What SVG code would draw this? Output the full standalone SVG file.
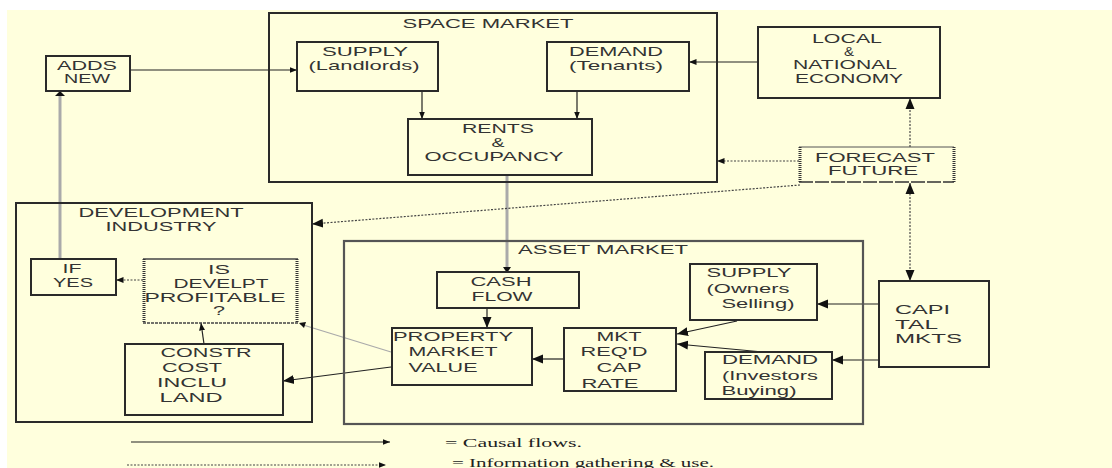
<svg xmlns="http://www.w3.org/2000/svg" width="1112" height="468" viewBox="0 0 1112 468">
<defs>
<style>
.bx{fill:none;stroke:#2a2a2a;stroke-width:2}
.t{font-family:"Liberation Sans",Arial,sans-serif;font-size:13px;fill:#333;text-anchor:middle}
.tl{font-family:"Liberation Sans",Arial,sans-serif;font-size:13px;fill:#333;text-anchor:start}
.lg{font-family:"Liberation Serif","Times New Roman",serif;font-size:13px;fill:#222}
.c{fill:none;stroke:#222;stroke-width:1.2}
.d{fill:none;stroke:#444;stroke-width:1.2;stroke-dasharray:2,1.5}
.g{fill:none;stroke:#aaa;stroke-width:3}
.gt{fill:none;stroke:#aaa;stroke-width:1.3}
.hatch{fill:none;stroke:#333;stroke-width:3;stroke-dasharray:1,1}
</style>
<marker id="a" markerUnits="userSpaceOnUse" markerWidth="12" markerHeight="12" viewBox="0 0 12 12" refX="11" refY="6" orient="auto"><path d="M0,1.5 L11,6 L0,10.5 Z" fill="#111"/></marker>
<marker id="s" markerUnits="userSpaceOnUse" markerWidth="8" markerHeight="8" viewBox="0 0 8 8" refX="7.5" refY="4" orient="auto"><path d="M0,1 L7.5,4 L0,7 Z" fill="#111"/></marker>
<marker id="as" markerUnits="userSpaceOnUse" markerWidth="12" markerHeight="12" viewBox="0 0 12 12" refX="1" refY="6" orient="auto"><path d="M12,1.5 L1,6 L12,10.5 Z" fill="#111"/></marker>
</defs>
<rect x="0" y="0" width="1112" height="468" fill="#fff"/>
<rect x="7" y="10" width="1105" height="458" fill="#FFFFDD"/>

<g id="connectors">
<line class="c" x1="130" y1="70" x2="297" y2="70" marker-end="url(#s)"/>
<line class="c" x1="758" y1="62" x2="689" y2="62" marker-end="url(#s)"/>
<line class="c" x1="422" y1="91" x2="422" y2="119" marker-end="url(#s)"/>
<line class="c" x1="577" y1="91" x2="577" y2="119" marker-end="url(#s)"/>
<line class="g" x1="507" y1="175" x2="507" y2="268"/>
<path d="M503,267 L507,273 L511,267 Z" fill="#111"/>
<line class="d" x1="910" y1="147" x2="910" y2="98" marker-end="url(#a)"/>
<line class="d" x1="910" y1="183" x2="910" y2="281" marker-start="url(#as)" marker-end="url(#a)"/>
<line class="d" x1="799" y1="161" x2="717" y2="161" marker-end="url(#s)"/>
<line class="d" x1="800" y1="185" x2="312" y2="224" marker-end="url(#a)"/>
<line class="g" x1="60" y1="259" x2="60" y2="96"/>
<path d="M55,96 L60,91 L65,96 Z" fill="#111"/>
<line class="d" x1="143" y1="280" x2="116" y2="280" marker-end="url(#s)"/>
<line class="c" x1="204" y1="344" x2="201" y2="323" marker-end="url(#s)"/>
<line class="gt" x1="391" y1="352" x2="300" y2="324"/>
<path d="M299,323 L306,322 L304,328 Z" fill="#111"/>
<line class="c" x1="391" y1="367" x2="283" y2="381" marker-end="url(#a)"/>
<line class="c" x1="487" y1="308" x2="487" y2="328" marker-end="url(#a)"/>
<line class="c" x1="564" y1="359" x2="532" y2="359" marker-end="url(#a)"/>
<line class="c" x1="737" y1="321" x2="677" y2="334" marker-end="url(#a)"/>
<line class="c" x1="763" y1="352" x2="677" y2="344" marker-end="url(#a)"/>
<line class="c" x1="879" y1="304" x2="817" y2="304" marker-end="url(#a)"/>
<line class="c" x1="879" y1="360" x2="832" y2="360" marker-end="url(#a)"/>
</g>

<g id="space-market">
<rect class="bx" x="269" y="13" width="448" height="169"/>
<text class="t" x="488" y="28" textLength="171" lengthAdjust="spacingAndGlyphs">SPACE MARKET</text>
</g>
<g id="supply-landlords">
<rect class="bx" x="297" y="42" width="141" height="49"/>
<text class="t" x="365" y="56" textLength="86" lengthAdjust="spacingAndGlyphs">SUPPLY</text>
<text class="t" x="364" y="70" textLength="111" lengthAdjust="spacingAndGlyphs">(Landlords)</text>
</g>
<g id="demand-tenants">
<rect class="bx" x="547" y="42" width="142" height="49"/>
<text class="t" x="616" y="56" textLength="94" lengthAdjust="spacingAndGlyphs">DEMAND</text>
<text class="t" x="616" y="70" textLength="94" lengthAdjust="spacingAndGlyphs">(Tenants)</text>
</g>
<g id="rents-occupancy">
<rect class="bx" x="408" y="119" width="184" height="56"/>
<text class="t" x="498" y="133" textLength="72" lengthAdjust="spacingAndGlyphs">RENTS</text>
<text class="t" x="498" y="147" textLength="13" lengthAdjust="spacingAndGlyphs">&amp;</text>
<text class="t" x="494" y="161" textLength="139" lengthAdjust="spacingAndGlyphs">OCCUPANCY</text>
</g>
<g id="adds-new">
<rect class="bx" x="46" y="56" width="84" height="35"/>
<text class="t" x="87" y="70" textLength="60" lengthAdjust="spacingAndGlyphs">ADDS</text>
<text class="t" x="87" y="83" textLength="46" lengthAdjust="spacingAndGlyphs">NEW</text>
</g>
<g id="local-national-economy">
<rect class="bx" x="758" y="27" width="182" height="71"/>
<text class="t" x="847" y="43" textLength="70" lengthAdjust="spacingAndGlyphs">LOCAL</text>
<text class="t" x="849" y="56" textLength="10" lengthAdjust="spacingAndGlyphs">&amp;</text>
<text class="t" x="845" y="69" textLength="104" lengthAdjust="spacingAndGlyphs">NATIONAL</text>
<text class="t" x="849" y="83" textLength="108" lengthAdjust="spacingAndGlyphs">ECONOMY</text>
</g>
<g id="forecast-future">
<line x1="799" y1="147" x2="954" y2="147" stroke="#555" stroke-width="1"/>
<line x1="799" y1="182" x2="954" y2="182" stroke="#333" stroke-width="1.5" stroke-dasharray="14,2"/>
<line class="hatch" x1="800" y1="147" x2="800" y2="182"/>
<line class="hatch" x1="954" y1="147" x2="954" y2="182"/>
<text class="t" x="875" y="162" textLength="120" lengthAdjust="spacingAndGlyphs">FORECAST</text>
<text class="t" x="873" y="175" textLength="90" lengthAdjust="spacingAndGlyphs">FUTURE</text>
</g>
<g id="development-industry">
<rect class="bx" x="16" y="203" width="296" height="219"/>
<text class="t" x="161" y="217" textLength="165" lengthAdjust="spacingAndGlyphs">DEVELOPMENT</text>
<text class="t" x="161" y="231" textLength="111" lengthAdjust="spacingAndGlyphs">INDUSTRY</text>
</g>
<g id="if-yes">
<rect class="bx" x="31" y="259" width="85" height="36"/>
<text class="t" x="72" y="273" textLength="19" lengthAdjust="spacingAndGlyphs">IF</text>
<text class="t" x="73" y="287" textLength="40" lengthAdjust="spacingAndGlyphs">YES</text>
</g>
<g id="is-develpt-profitable">
<line x1="143" y1="259" x2="298" y2="259" stroke="#444" stroke-width="1.5"/>
<line x1="143" y1="323" x2="298" y2="323" stroke="#444" stroke-width="1.5" stroke-dasharray="3,1"/>
<line class="hatch" x1="144" y1="259" x2="144" y2="323"/>
<line class="hatch" x1="297" y1="259" x2="297" y2="323"/>
<text class="t" x="219" y="274" textLength="22" lengthAdjust="spacingAndGlyphs">IS</text>
<text class="t" x="221" y="288" textLength="95" lengthAdjust="spacingAndGlyphs">DEVELPT</text>
<text class="t" x="215" y="302" textLength="141" lengthAdjust="spacingAndGlyphs">PROFITABLE</text>
<text class="t" x="219" y="315" textLength="12" lengthAdjust="spacingAndGlyphs">?</text>
</g>
<g id="constr-cost">
<rect class="bx" x="125" y="344" width="158" height="71"/>
<text class="t" x="206" y="357" textLength="91" lengthAdjust="spacingAndGlyphs">CONSTR</text>
<text class="t" x="192" y="372" textLength="60" lengthAdjust="spacingAndGlyphs">COST</text>
<text class="t" x="192" y="387" textLength="70" lengthAdjust="spacingAndGlyphs">INCLU</text>
<text class="t" x="191" y="402" textLength="63" lengthAdjust="spacingAndGlyphs">LAND</text>
</g>
<g id="asset-market">
<rect x="344" y="241" width="519" height="183" fill="none" stroke="#555" stroke-width="2.2"/>
<text class="t" x="603" y="254" textLength="170" lengthAdjust="spacingAndGlyphs">ASSET MARKET</text>
</g>
<g id="cash-flow">
<rect class="bx" x="437" y="272" width="142" height="36"/>
<text class="t" x="501" y="286" textLength="61" lengthAdjust="spacingAndGlyphs">CASH</text>
<text class="t" x="502" y="301" textLength="61" lengthAdjust="spacingAndGlyphs">FLOW</text>
</g>
<g id="property-market-value">
<rect class="bx" x="392" y="328" width="140" height="57"/>
<text class="t" x="453" y="341" textLength="120" lengthAdjust="spacingAndGlyphs">PROPERTY</text>
<text class="t" x="453" y="356" textLength="89" lengthAdjust="spacingAndGlyphs">MARKET</text>
<text class="t" x="443" y="372" textLength="69" lengthAdjust="spacingAndGlyphs">VALUE</text>
</g>
<g id="mkt-reqd-cap-rate">
<rect class="bx" x="564" y="328" width="112" height="63"/>
<text class="t" x="619" y="341" textLength="45" lengthAdjust="spacingAndGlyphs">MKT</text>
<text class="t" x="614" y="356" textLength="67" lengthAdjust="spacingAndGlyphs">REQ'D</text>
<text class="t" x="619" y="372" textLength="45" lengthAdjust="spacingAndGlyphs">CAP</text>
<text class="t" x="610" y="388" textLength="57" lengthAdjust="spacingAndGlyphs">RATE</text>
</g>
<g id="supply-owners">
<rect class="bx" x="690" y="264" width="127" height="56"/>
<text class="t" x="749" y="277" textLength="85" lengthAdjust="spacingAndGlyphs">SUPPLY</text>
<text class="t" x="748" y="293" textLength="83" lengthAdjust="spacingAndGlyphs">(Owners</text>
<text class="t" x="758" y="308" textLength="73" lengthAdjust="spacingAndGlyphs">Selling)</text>
</g>
<g id="demand-investors">
<rect class="bx" x="705" y="352" width="127" height="47"/>
<text class="t" x="770" y="364" textLength="96" lengthAdjust="spacingAndGlyphs">DEMAND</text>
<text class="t" x="770" y="380" textLength="96" lengthAdjust="spacingAndGlyphs">(Investors</text>
<text class="t" x="759" y="395" textLength="75" lengthAdjust="spacingAndGlyphs">Buying)</text>
</g>
<g id="capital-mkts">
<rect class="bx" x="879" y="281" width="110" height="86"/>
<text class="tl" x="895" y="314" textLength="55" lengthAdjust="spacingAndGlyphs">CAPI</text>
<text class="tl" x="895" y="329" textLength="43" lengthAdjust="spacingAndGlyphs">TAL</text>
<text class="tl" x="895" y="343" textLength="67" lengthAdjust="spacingAndGlyphs">MKTS</text>
</g>
<g id="legend">
<line class="c" x1="131" y1="442" x2="390" y2="442" marker-end="url(#s)"/>
<line class="d" x1="127" y1="465" x2="386" y2="465" marker-end="url(#s)"/>
<text class="lg" x="445" y="447" textLength="137" lengthAdjust="spacingAndGlyphs">= Causal flows.</text>
<text class="lg" x="452" y="467" textLength="262" lengthAdjust="spacingAndGlyphs">= Information gathering &amp; use.</text>
</g>
</svg>
